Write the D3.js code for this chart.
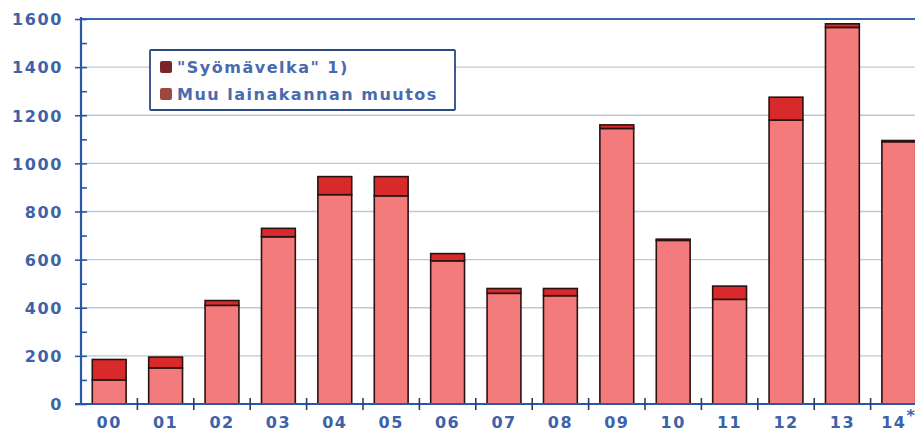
<!DOCTYPE html>
<html>
<head>
  <meta charset="utf-8">
  <title>lainakannan muutos</title>
  <script src="https://d3js.org/d3.v7.min.js"></script>
  <style>
    body { margin: 0; background: #fff; }
    text { font-family: "DejaVu Sans", Verdana, sans-serif; font-weight: bold; fill: #3d62aa; }
  </style>
</head>
<body>
<div id="chart"></div>
<script>
// data
var years = ["00","01","02","03","04","05","06","07","08","09","10","11","12","13","14*"];
var muu   = [100, 150, 410, 695, 870, 865, 595, 460, 450, 1145, 680, 435, 1180, 1565, 1090];
var syoma = [85, 45, 20, 35, 75, 80, 30, 20, 30, 15, 5, 55, 95, 15, 5];
var yTicks = [0, 200, 400, 600, 800, 1000, 1200, 1400, 1600];
var legendNames = ["\"Syömävelka\" 1)", "Muu lainakannan muutos"];

var W = 915, H = 432;
var svg = d3.select("#chart").append("svg")
  .attr("width", W).attr("height", H);

var y = d3.scaleLinear().domain([0, 1600]).range([404, 19]);
var x = d3.scaleBand().domain(years).range([81, 927])
  .paddingInner(0.4).paddingOuter(0.2);

// grid lines
svg.append("g").selectAll("line")
  .data(yTicks.slice(1))
  .enter().append("line")
  .attr("x1", 81).attr("x2", W)
  .attr("y1", function(d) { return y(d); })
  .attr("y2", function(d) { return y(d); })
  .attr("stroke", function(d) { return d == 1600 ? "#3a66ad" : "#b9c9da"; })
  .attr("stroke-width", function(d) { return d == 1600 ? 2 : 1.3; });

// stacked bars
var rows = years.map(function(k, i) { return { year: k, muu: muu[i], syoma: syoma[i] }; });
var stack = d3.stack().keys(["muu", "syoma"])(rows);
var fills = ["#f47b7b", "#d82a2a"];

stack.forEach(function(layer, li) {
  svg.append("g").selectAll("rect")
    .data(layer)
    .enter().append("rect")
    .attr("x", function(d) { return x(d.data.year); })
    .attr("width", x.bandwidth())
    .attr("y", function(d) { return y(d[1]); })
    .attr("height", function(d) { return y(d[0]) - y(d[1]); })
    .attr("fill", fills[li])
    .attr("stroke", "#2b1212")
    .attr("stroke-width", 1.6);
});

// y axis
var yAxis = svg.append("g").attr("transform", "translate(81,0)")
  .call(d3.axisLeft(y).tickValues(yTicks).tickFormat(d3.format("d")).tickSize(6).tickPadding(12));
yAxis.selectAll("text").style("font-size", "16px").style("letter-spacing", "1.6px").attr("dy", "0.36em");
yAxis.selectAll(".tick line").attr("x2", -6).attr("x1", 6)
  .attr("stroke", "#2b58a6").attr("stroke-width", 1.6);
yAxis.select(".domain").remove();
var minor = svg.append("g").attr("transform", "translate(81,0)")
  .call(d3.axisRight(y).tickValues([100, 300, 500, 700, 900, 1100, 1300, 1500]).tickSize(6).tickFormat(""));
minor.select(".domain").remove();
minor.selectAll("line").attr("stroke", "#2b58a6").attr("stroke-width", 1.6);
svg.append("line").attr("x1", 81).attr("x2", 81).attr("y1", 17).attr("y2", 405)
  .attr("stroke", "#2b58a6").attr("stroke-width", 2.2);

// x axis
var xAxis = svg.append("g").attr("transform", "translate(0,404)")
  .call(d3.axisBottom(x).tickSize(0).tickPadding(13));
xAxis.select(".domain").remove();
xAxis.selectAll("text").style("font-size", "16px").style("letter-spacing", "1.5px");
xAxis.selectAll("text").filter(function(d) { return d == "14*"; })
  .text("14").append("tspan").attr("dy", "-0.45em").text("*");
svg.append("line").attr("x1", 75).attr("x2", W).attr("y1", 404).attr("y2", 404)
  .attr("stroke", "#2b58a6").attr("stroke-width", 2.2);
svg.append("g").selectAll("line")
  .data(years.slice(1))
  .enter().append("line")
  .attr("x1", function(d) { return x(d) - x.step() * x.paddingInner() / 2; })
  .attr("x2", function(d) { return x(d) - x.step() * x.paddingInner() / 2; })
  .attr("y1", 398).attr("y2", 410)
  .attr("stroke", "#2b3e66").attr("stroke-width", 1.6);

// legend
var lg = svg.append("g").attr("transform", "translate(150,50)");
lg.append("rect").attr("width", 305).attr("height", 60)
  .attr("fill", "#fff").attr("stroke", "#2c4a82").attr("stroke-width", 1.8).attr("rx", 1);
var legendColors = ["#7a2628", "#9c4a3f"];
legendNames.forEach(function(n, i) {
  lg.append("rect").attr("x", 10).attr("y", 11 + i * 27).attr("width", 12).attr("height", 12)
    .attr("rx", 2).attr("fill", legendColors[i]);
  lg.append("text").attr("x", 27).attr("y", 17 + i * 27).attr("dy", "0.36em")
    .style("font-size", "16px").style("letter-spacing", "1.5px")
    .style("fill", "#4a6aaf").text(n);
});
</script>
</body>
</html>
